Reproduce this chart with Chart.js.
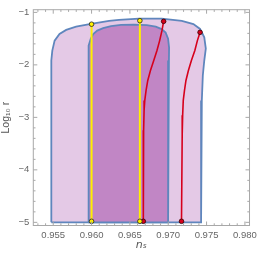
<!DOCTYPE html>
<html><head><meta charset="utf-8">
<script src="https://cdn.jsdelivr.net/npm/chart.js@4/dist/chart.umd.min.js"></script>
<style>html,body{margin:0;padding:0;background:#fff;overflow:hidden}#wrap{width:261px;height:260px}</style>
</head><body><div id="wrap"><canvas id="c" width="261" height="260"></canvas></div>
<script>
// ---- data ----
const xTicks = [0.955, 0.960, 0.965, 0.970, 0.975, 0.980];
const yTicks = [-5, -4, -3, -2, -1];
const xTitle = 'nₛ';
const yTitle = 'Log₁₀ r';

// outer (95%) region boundary, closed
const outerBoundary = [
  [0.95475,-5.0],[0.95475,-1.917],[0.95488,-1.727],[0.95518,-1.538],[0.95582,-1.41],
  [0.95669,-1.334],[0.95798,-1.272],[0.95992,-1.22],[0.96229,-1.163],[0.96358,-1.144],
  [0.96617,-1.12],[0.96914,-1.12],[0.97177,-1.163],[0.97328,-1.224],[0.97415,-1.315],
  [0.9747,-1.475],[0.9749,-1.69],[0.9747,-1.917],[0.97451,-2.202],[0.97438,-2.677],
  [0.97429,-3.437],[0.97428,-5.0],[0.95475,-5.0]
];
// inner (68%) region boundary, closed
const innerBoundary = [
  [0.95957,-5.0],[0.95957,-1.822],[0.95966,-1.632],[0.9599,-1.5],[0.96022,-1.414],
  [0.96074,-1.348],[0.96151,-1.30],[0.96255,-1.262],[0.96384,-1.239],[0.96552,-1.234],
  [0.9672,-1.243],[0.96837,-1.272],[0.96914,-1.319],[0.96966,-1.386],[0.96998,-1.50],
  [0.97011,-1.67],[0.97009,-1.917],[0.96998,-5.0],[0.95957,-5.0]
];
const yellowLine1 = [[0.9600,-1.225],[0.9600,-4.98]];
const yellowLine2 = [[0.9663,-1.158],[0.9663,-4.98]];
const redLine1 = [
  [0.9694,-1.171],[0.96918,-1.348],[0.96888,-1.538],[0.96853,-1.727],[0.96811,-1.917],
  [0.96768,-2.107],[0.96733,-2.297],[0.96711,-2.487],[0.96694,-2.677],[0.96685,-2.867],
  [0.96679,-3.247],[0.96675,-4.98]
];
const redLine2 = [
  [0.97415,-1.38],[0.9738,-1.538],[0.97347,-1.727],[0.97302,-1.917],[0.97263,-2.107],
  [0.97231,-2.297],[0.97212,-2.487],[0.97196,-2.677],[0.97188,-2.962],[0.97182,-3.342],
  [0.97173,-4.98]
];
const yellowPoints = [[0.9600,-1.225],[0.9663,-1.158],[0.9600,-4.98],[0.9663,-4.98]];
const redPoints = [[0.9694,-1.171],[0.97415,-1.38],[0.96675,-4.98],[0.97173,-4.98]];

const toXY = a => a.map(p => ({x: p[0], y: p[1]}));

const framePlugin = {
  id: 'frame',
  afterDatasetsDraw(chart) {
    const {ctx, chartArea: a, scales: {x, y}} = chart;
    ctx.save();
    ctx.strokeStyle = '#a8a8a8';
    ctx.lineWidth = 1;
    ctx.strokeRect(a.left, a.top, a.right - a.left, a.bottom - a.top);
    ctx.beginPath();
    for (let k = 952; k <= 981; k++) {
      const v = k / 1000;
      if (v < x.min || v > x.max) continue;
      const px = x.getPixelForValue(v);
      const len = (k % 5 === 0) ? 4 : 2.2;
      ctx.moveTo(px, a.bottom); ctx.lineTo(px, a.bottom - len);
      ctx.moveTo(px, a.top); ctx.lineTo(px, a.top + len);
    }
    for (let k = -26; k <= -4; k++) {
      const v = k / 5;
      if (v < y.min || v > y.max) continue;
      const py = y.getPixelForValue(v);
      const len = (k % 5 === 0) ? 4 : 2.2;
      ctx.moveTo(a.left, py); ctx.lineTo(a.left + len, py);
      ctx.moveTo(a.right, py); ctx.lineTo(a.right - len, py);
    }
    ctx.stroke();
    ctx.restore();
  }
};

const lineDs = (data, color, width, order) => ({
  data: toXY(data), borderColor: color, borderWidth: width, pointRadius: 0,
  fill: false, tension: 0, order
});

new Chart(document.getElementById('c'), {
  type: 'line',
  data: {
    datasets: [
      {data: toXY(outerBoundary), borderColor: '#5f86bd', borderWidth: 1.8,
       backgroundColor: '#e4c9e6', fill: 'shape', pointRadius: 0, tension: 0, order: 10},
      {data: toXY(innerBoundary), borderColor: '#5f86bd', borderWidth: 1.8,
       backgroundColor: '#c186c5', fill: 'shape', pointRadius: 0, tension: 0, order: 9},
      lineDs(yellowLine1, '#fff000', 2, 6),
      lineDs(yellowLine2, '#fff000', 2, 6),
      lineDs(redLine1, '#d6001c', 1.6, 5),
      lineDs(redLine2, '#d6001c', 1.6, 5),
      {data: toXY(yellowPoints), showLine: false, pointRadius: 2.3, pointBackgroundColor: '#fff000',
       pointBorderColor: '#222', pointBorderWidth: 0.8, order: 1},
      {data: toXY(redPoints), showLine: false, pointRadius: 2.3, pointBackgroundColor: '#d6001c',
       pointBorderColor: '#300', pointBorderWidth: 0.8, order: 1}
    ]
  },
  options: {
    responsive: false,
    animation: false,
    devicePixelRatio: 1,
    layout: {padding: {top: 9, right: 9.5, left: 0, bottom: 0}},
    plugins: {legend: {display: false}, tooltip: {enabled: false}},
    scales: {
      x: {
        type: 'linear', min: 0.9524, max: 0.9806,
        grid: {display: false, drawTicks: false}, border: {display: false},
        afterBuildTicks: s => { s.ticks = xTicks.map(v => ({value: v})); },
        afterFit: s => { s.height = 34.5; },
        ticks: {padding: 4, color: '#666', font: {family: 'Liberation Sans', size: 9.5},
                maxRotation: 0, autoSkip: false, callback: v => Number(v).toFixed(3)},
        title: {display: true, text: xTitle, color: '#555', padding: {top: 0, bottom: 8},
                font: {family: 'DejaVu Sans', size: 11, style: 'italic'}}
      },
      y: {
        type: 'linear', min: -5.06, max: -0.949,
        grid: {display: false, drawTicks: false}, border: {display: false},
        afterBuildTicks: s => { s.ticks = yTicks.map(v => ({value: v})); },
        afterFit: s => { s.width = 33.3; },
        ticks: {padding: 4, color: '#666', font: {family: 'Liberation Sans', size: 9.5},
                autoSkip: false, callback: v => (v < 0 ? '\u2212' + Math.abs(v) : String(v))},
        title: {display: true, text: yTitle, color: '#555', padding: {top: 0, bottom: 0},
                font: {family: 'Liberation Sans', size: 10.5}}
      }
    }
  },
  plugins: [framePlugin]
});
</script>
</body></html>
